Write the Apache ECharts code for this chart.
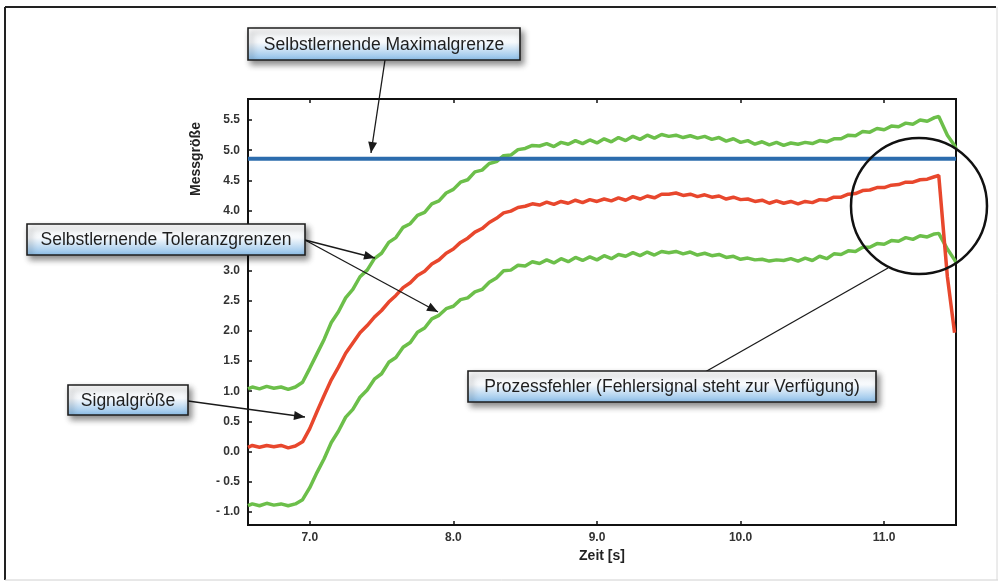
<!DOCTYPE html>
<html>
<head>
<meta charset="utf-8">
<script src="https://cdn.jsdelivr.net/npm/echarts@6/dist/echarts.min.js"></script>
<style>
html,body{margin:0;padding:0;background:#fff;}
#chart{width:1000px;height:583px;}
</style>
</head>
<body>
<div id="chart"></div>
<script>
// ---- data ----
const xs = [6.57,6.60,6.65,6.70,6.75,6.80,6.85,6.90,6.95,7.00,7.05,7.10,7.15,7.20,7.25,7.30,7.35,7.40,7.45,7.50,7.55,7.60,7.65,7.70,7.75,7.80,7.85,7.90,7.95,8.00,8.05,8.10,8.15,8.20,8.25,8.30,8.35,8.40,8.45,8.50,8.55,8.60,8.65,8.70,8.75,8.80,8.85,8.90,8.95,9.00,9.05,9.10,9.15,9.20,9.25,9.30,9.35,9.40,9.45,9.50,9.55,9.60,9.65,9.70,9.75,9.80,9.85,9.90,9.95,10.00,10.05,10.10,10.15,10.20,10.25,10.30,10.35,10.40,10.45,10.50,10.55,10.60,10.65,10.70,10.75,10.80,10.85,10.90,10.95,11.00,11.05,11.10,11.15,11.20,11.25,11.30,11.35,11.38,11.44,11.49,11.50];
const signal = [0.07,0.10,0.07,0.10,0.08,0.10,0.06,0.09,0.16,0.38,0.66,0.93,1.19,1.40,1.63,1.80,1.97,2.09,2.23,2.34,2.48,2.59,2.72,2.80,2.92,2.99,3.11,3.18,3.29,3.36,3.47,3.54,3.64,3.70,3.80,3.87,3.96,3.99,4.05,4.07,4.11,4.09,4.14,4.10,4.15,4.12,4.17,4.13,4.18,4.15,4.19,4.16,4.21,4.17,4.23,4.19,4.24,4.21,4.27,4.27,4.29,4.25,4.27,4.23,4.26,4.22,4.24,4.19,4.22,4.18,4.19,4.15,4.17,4.12,4.16,4.12,4.15,4.11,4.15,4.13,4.18,4.17,4.22,4.22,4.27,4.28,4.33,4.34,4.38,4.38,4.42,4.43,4.47,4.47,4.51,4.52,4.56,4.58,2.90,1.97,null];
const upperLimit = [1.04,1.07,1.04,1.08,1.05,1.07,1.03,1.07,1.15,1.38,1.62,1.86,2.14,2.32,2.55,2.69,2.90,3.01,3.20,3.29,3.47,3.55,3.72,3.78,3.92,3.97,4.11,4.16,4.29,4.35,4.47,4.51,4.64,4.67,4.78,4.81,4.91,4.92,5.01,5.03,5.08,5.07,5.11,5.06,5.13,5.10,5.16,5.11,5.17,5.12,5.19,5.14,5.21,5.16,5.23,5.18,5.25,5.20,5.26,5.23,5.25,5.21,5.24,5.20,5.23,5.18,5.21,5.15,5.19,5.13,5.16,5.10,5.14,5.09,5.13,5.08,5.12,5.10,5.13,5.11,5.16,5.14,5.19,5.19,5.25,5.24,5.31,5.30,5.36,5.34,5.40,5.39,5.45,5.43,5.50,5.48,5.54,5.56,5.25,5.08,5.03];
const lowerLimit = [-0.90,-0.87,-0.90,-0.86,-0.89,-0.87,-0.90,-0.87,-0.80,-0.60,-0.35,-0.12,0.15,0.34,0.57,0.70,0.90,1.02,1.20,1.29,1.48,1.56,1.73,1.81,1.98,2.05,2.20,2.26,2.37,2.41,2.52,2.55,2.65,2.69,2.81,2.88,3.00,3.01,3.09,3.08,3.15,3.12,3.18,3.13,3.20,3.15,3.22,3.17,3.23,3.18,3.25,3.20,3.27,3.24,3.30,3.25,3.31,3.26,3.32,3.30,3.32,3.28,3.31,3.26,3.29,3.25,3.27,3.22,3.24,3.19,3.21,3.18,3.19,3.16,3.18,3.17,3.20,3.16,3.21,3.17,3.24,3.20,3.28,3.27,3.33,3.32,3.39,3.39,3.45,3.44,3.50,3.49,3.55,3.52,3.58,3.56,3.61,3.62,3.36,3.18,3.14];
const maxLimit = 4.86;
const xRange = [6.57, 11.5];
const yRange = [-1.22, 5.85];
const xTicks = [7, 8, 9, 10, 11];
const yTicks = [-1.0,-0.5,0.0,0.5,1.0,1.5,2.0,2.5,3.0,3.5,4.0,4.5,5.0,5.5];
const labels = {
  maxBox: 'Selbstlernende Maximalgrenze',
  tolBox: 'Selbstlernende Toleranzgrenzen',
  sigBox: 'Signalgröße',
  errBox: 'Prozessfehler (Fehlersignal steht zur Verfügung)',
  xTitle: 'Zeit [s]',
  yTitle: 'Messgröße'
};

const zip = (ys) => xs.map((x, i) => [x, ys[i]]);

const chart = echarts.init(document.getElementById('chart'), null, {renderer: 'canvas'});

const FONT = '"Liberation Sans", Arial, sans-serif';
const GREEN = '#6cbf4a';
const RED = '#e8472d';
const BLUE = '#2c6cad';

function box(x, y, w, h, text) {
  return {
    type: 'group', z: 100,
    children: [
      { type: 'rect', shape: {x: x, y: y, width: w, height: h},
        style: {
          fill: new echarts.graphic.LinearGradient(0, 0, 0, 1, [
            {offset: 0, color: '#ffffff'},
            {offset: 0.45, color: '#f6f9fc'},
            {offset: 1, color: '#88bce8'}
          ]),
          stroke: '#1e1e1e', lineWidth: 1.6,
          shadowBlur: 6, shadowOffsetX: 3, shadowOffsetY: 4, shadowColor: 'rgba(0,0,0,0.45)'
        }, z: 100 },
      { type: 'text', z: 101,
        style: { text: text, x: x + w / 2, y: y + h / 2 + 1, align: 'center', verticalAlign: 'middle',
                 fill: '#1e1e1e', font: '17.5px ' + FONT } }
    ]
  };
}

function arrow(x1, y1, x2, y2, head) {
  const els = [{ type: 'line', z: 90, shape: {x1: x1, y1: y1, x2: x2, y2: y2},
                 style: {stroke: '#1a1a1a', lineWidth: 1.3} }];
  if (head) {
    const a = Math.atan2(y2 - y1, x2 - x1);
    const L = 11, W = 4.5;
    const bx = x2 - L * Math.cos(a), by = y2 - L * Math.sin(a);
    els.push({ type: 'polygon', z: 91,
      shape: {points: [[x2, y2], [bx - W * Math.sin(a), by + W * Math.cos(a)], [bx + W * Math.sin(a), by - W * Math.cos(a)]]},
      style: {fill: '#1a1a1a'} });
  }
  return els;
}

const graphics = [
  // outer frame
  { type: 'line', shape: {x1: 5, y1: 7, x2: 996, y2: 7}, style: {stroke: '#222', lineWidth: 2}, z: 50 },
  { type: 'line', shape: {x1: 5, y1: 7, x2: 5, y2: 580}, style: {stroke: '#222', lineWidth: 2}, z: 50 },
  { type: 'line', shape: {x1: 5, y1: 580, x2: 998, y2: 580}, style: {stroke: '#d0d0d0', lineWidth: 1}, z: 50 },
  { type: 'line', shape: {x1: 997, y1: 7, x2: 997, y2: 580}, style: {stroke: '#d8d8d8', lineWidth: 1}, z: 50 },
  // y axis title
  { type: 'text', z: 60, x: 196, y: 159, rotation: Math.PI / 2,
    style: { text: labels.yTitle, x: 0, y: 0, align: 'center', verticalAlign: 'middle',
             fill: '#222', font: 'bold 14px ' + FONT } },
  // circle
  { type: 'circle', z: 80, shape: {cx: 919, cy: 206, r: 68}, style: {fill: 'none', stroke: '#111', lineWidth: 2.5} },
  ...arrow(385, 60, 371, 153, true),
  ...arrow(305, 240, 375, 258, true),
  ...arrow(305, 240, 438, 312, true),
  ...arrow(188, 401, 305, 417, true),
  ...arrow(705, 372, 888, 268, false),
  box(248, 28, 272, 32, labels.maxBox),
  box(27, 224, 278, 31, labels.tolBox),
  box(68, 385, 120, 30, labels.sigBox),
  box(468, 371, 408, 31, labels.errBox)
];

const option = {
  animation: false,
  backgroundColor: '#ffffff',
  grid: { left: 248, right: 44, top: 99, bottom: 58, containLabel: false,
          show: true, borderColor: '#111', borderWidth: 2, backgroundColor: '#fff' },
  xAxis: [{
    type: 'value', min: xRange[0], max: xRange[1],
    name: labels.xTitle, nameLocation: 'middle', nameGap: 23,
    nameTextStyle: { fontFamily: FONT, fontWeight: 'bold', fontSize: 14, color: '#222' },
    axisLine: { show: true, onZero: false, lineStyle: {color: '#111', width: 2} },
    axisTick: { show: true, inside: true, length: 4, customValues: xTicks, lineStyle: {color: '#111', width: 1.5} },
    axisLabel: { customValues: xTicks, margin: 7, fontFamily: FONT, fontWeight: 'bold', fontSize: 12, color: '#333',
                 formatter: v => Number(v).toFixed(1) },
    splitLine: { show: false }
  }, {
    type: 'value', position: 'top', min: xRange[0], max: xRange[1],
    axisLine: { show: true, onZero: false, lineStyle: {color: '#111', width: 2} },
    axisTick: { show: true, inside: true, length: 4, customValues: xTicks, lineStyle: {color: '#111', width: 1.5} },
    axisLabel: { show: false },
    splitLine: { show: false }
  }],
  yAxis: {
    type: 'value', min: yRange[0], max: yRange[1],
    axisLine: { show: true, onZero: false, lineStyle: {color: '#111', width: 2} },
    axisTick: { show: true, inside: true, length: 4, customValues: yTicks, lineStyle: {color: '#111', width: 1.5} },
    axisLabel: { customValues: yTicks, margin: 8, fontFamily: FONT, fontWeight: 'bold', fontSize: 12, color: '#333',
                 formatter: v => (v < 0 ? '- ' + Math.abs(v).toFixed(1) : Number(v).toFixed(1)) },
    splitLine: { show: false }
  },
  series: [
    { name: 'upper', type: 'line', data: zip(upperLimit), showSymbol: false, z: 3,
      lineStyle: {color: GREEN, width: 3.5}, itemStyle: {color: GREEN} },
    { name: 'lower', type: 'line', data: zip(lowerLimit), showSymbol: false, z: 3,
      lineStyle: {color: GREEN, width: 3.5}, itemStyle: {color: GREEN} },
    { name: 'signal', type: 'line', data: zip(signal), showSymbol: false, z: 4,
      lineStyle: {color: RED, width: 3.5}, itemStyle: {color: RED} },
    { name: 'max', type: 'line', data: [[xRange[0], maxLimit], [xRange[1], maxLimit]], showSymbol: false, z: 5,
      lineStyle: {color: BLUE, width: 4}, itemStyle: {color: BLUE} }
  ],
  graphic: graphics
};

chart.setOption(option);
</script>
</body>
</html>
